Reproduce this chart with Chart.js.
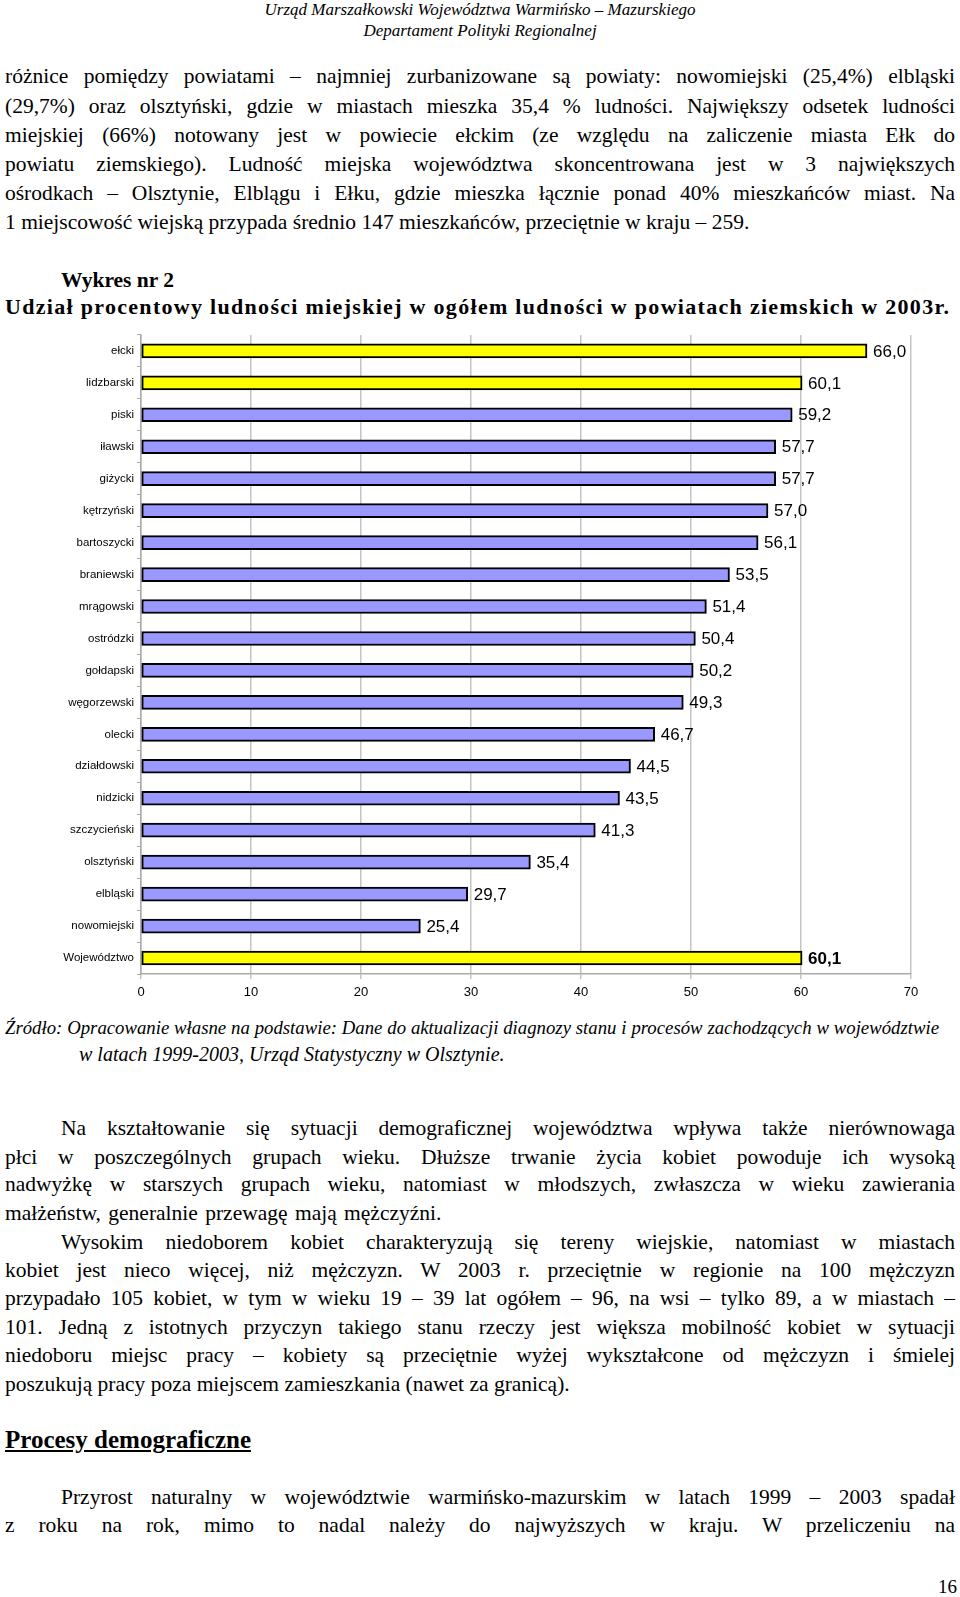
<!DOCTYPE html>
<html lang="pl">
<head>
<meta charset="utf-8">
<script src="https://cdn.jsdelivr.net/npm/chart.js@4.4.0/dist/chart.umd.min.js"></script>
<style>
body{margin:0;width:960px;height:1597px;position:relative;background:#fff;font-family:"Liberation Serif",serif;color:#000;overflow:hidden}
.ln{position:absolute;left:5px;width:950px;font-size:21.5px;line-height:28px;white-space:nowrap}
.j{text-align:justify;text-align-last:justify;white-space:normal}
.in{left:61px;width:894px}
.hd{position:absolute;left:0;width:960px;text-align:center;font-style:italic;font-size:17px;line-height:20px}
.b{font-weight:bold}
.it{font-style:italic;font-size:20px}
#wykres{position:absolute;left:0;top:325px;width:960px;height:684px}
</style>
</head>
<body>
<div class="hd" style="top:0px">Urząd Marszałkowski Województwa Warmińsko – Mazurskiego</div>
<div class="hd" style="top:21px">Departament Polityki Regionalnej</div>

<div class="ln j" style="top:62px">różnice pomiędzy powiatami – najmniej zurbanizowane są powiaty: nowomiejski (25,4%) elbląski</div>
<div class="ln j" style="top:92px">(29,7%) oraz olsztyński, gdzie w miastach mieszka 35,4 % ludności. Największy odsetek ludności</div>
<div class="ln j" style="top:121px">miejskiej (66%) notowany jest w powiecie ełckim (ze względu na zaliczenie miasta Ełk do</div>
<div class="ln j" style="top:150px">powiatu ziemskiego). Ludność miejska województwa skoncentrowana jest w 3 największych</div>
<div class="ln j" style="top:179px">ośrodkach – Olsztynie, Elblągu i Ełku, gdzie mieszka łącznie ponad 40% mieszkańców miast. Na</div>
<div class="ln" style="top:208px">1 miejscowość wiejską przypada średnio 147 mieszkańców, przeciętnie w kraju – 259.</div>

<div class="ln b" style="top:266px;left:61px">Wykres nr 2</div>
<div class="ln b" style="top:293px;font-size:22px;letter-spacing:1.3px">Udział procentowy ludności miejskiej w ogółem ludności w powiatach ziemskich w 2003r.</div>

<div id="wykres"><canvas id="graf" width="960" height="684"></canvas></div>

<div class="ln j it" style="top:1014px;width:934px">Źródło: Opracowanie własne na podstawie: Dane do aktualizacji diagnozy stanu i procesów zachodzących w województwie</div>
<div class="ln it" style="top:1040px;left:79px">w latach 1999-2003, Urząd Statystyczny w Olsztynie.</div>

<div class="ln j in" style="top:1114px">Na kształtowanie się sytuacji demograficznej województwa wpływa także nierównowaga</div>
<div class="ln j" style="top:1143px">płci w poszczególnych grupach wieku. Dłuższe trwanie życia kobiet powoduje ich wysoką</div>
<div class="ln j" style="top:1170px">nadwyżkę w starszych grupach wieku, natomiast w młodszych, zwłaszcza w wieku zawierania</div>
<div class="ln" style="top:1199px;word-spacing:2px">małżeństw, generalnie przewagę mają mężczyźni.</div>
<div class="ln j in" style="top:1228px">Wysokim niedoborem kobiet charakteryzują się tereny wiejskie, natomiast w miastach</div>
<div class="ln j" style="top:1256px">kobiet jest nieco więcej, niż mężczyzn. W 2003 r. przeciętnie w regionie na 100 mężczyzn</div>
<div class="ln j" style="top:1284px">przypadało 105 kobiet, w tym w wieku 19 – 39 lat ogółem – 96, na wsi – tylko 89, a w miastach –</div>
<div class="ln j" style="top:1313px">101. Jedną z istotnych przyczyn takiego stanu rzeczy jest większa mobilność kobiet w sytuacji</div>
<div class="ln j" style="top:1341px">niedoboru miejsc pracy – kobiety są przeciętnie wyżej wykształcone od mężczyzn i śmielej</div>
<div class="ln" style="top:1370px">poszukują pracy poza miejscem zamieszkania (nawet za granicą).</div>

<div class="ln b" style="top:1426px;font-size:25px;text-decoration:underline">Procesy demograficzne</div>
<div class="ln j in" style="top:1483px">Przyrost naturalny w województwie warmińsko-mazurskim w latach 1999 – 2003 spadał</div>
<div class="ln j" style="top:1511px">z roku na rok, mimo to nadal należy do najwyższych w kraju. W przeliczeniu na</div>
<div class="ln" style="top:1573px;text-align:right;width:952px;font-size:19px">16</div>

<script>
// wiersze justowane musza sie zmiescic w jednej linii
document.querySelectorAll('.j').forEach(el => {
    let rozmiar = parseFloat(getComputedStyle(el).fontSize)
    while (el.offsetHeight > 30 && rozmiar > 12) {
        rozmiar -= 0.25
        el.style.fontSize = rozmiar + 'px'
    }
})

// dane z wykresu nr 2
const powiaty = ['ełcki', 'lidzbarski', 'piski', 'iławski', 'giżycki', 'kętrzyński', 'bartoszycki',
    'braniewski', 'mrągowski', 'ostródzki', 'gołdapski', 'węgorzewski', 'olecki', 'działdowski',
    'nidzicki', 'szczycieński', 'olsztyński', 'elbląski', 'nowomiejski', 'Województwo']
const udzial = [66.0, 60.1, 59.2, 57.7, 57.7, 57.0, 56.1, 53.5, 51.4, 50.4, 50.2, 49.3, 46.7, 44.5,
    43.5, 41.3, 35.4, 29.7, 25.4, 60.1]
const wyroznione = ['ełcki', 'lidzbarski', 'Województwo']
const osMin = 0
const osMax = 70
const osKrok = 10

const zolty = '#ffff00'
const niebieski = '#9999ff'
const szary = '#c4c4c4'

const kolory = powiaty.map(p => wyroznione.includes(p) ? zolty : niebieski)

// etykiety wartosci obok slupkow
const etykiety = {
    id: 'etykiety',
    afterDatasetsDraw(chart) {
        const ctx = chart.ctx
        const meta = chart.getDatasetMeta(0)
        ctx.save()
        ctx.fillStyle = '#000'
        ctx.textBaseline = 'middle'
        ctx.textAlign = 'left'
        meta.data.forEach((bar, i) => {
            const pogrubione = powiaty[i] === 'Województwo'
            ctx.font = (pogrubione ? 'bold ' : '') + '17px "Liberation Sans", Arial, sans-serif'
            ctx.fillText(udzial[i].toFixed(1).replace('.', ','), bar.x + 6, bar.y + 1)
        })
        ctx.restore()
    }
}

Chart.defaults.color = '#000000'
Chart.defaults.font.family = '"Liberation Sans", Arial, sans-serif'

new Chart(document.getElementById('graf'), {
    type: 'bar',
    data: {
        labels: powiaty,
        datasets: [{
            data: udzial,
            backgroundColor: kolory,
            borderColor: '#000000',
            borderWidth: 2,
            borderSkipped: false,
            barThickness: 14
        }]
    },
    options: {
        indexAxis: 'y',
        responsive: false,
        animation: false,
        layout: { padding: { top: 5, right: 49, left: 0, bottom: 0 } },
        plugins: {
            legend: { display: false },
            tooltip: { enabled: false }
        },
        scales: {
            x: {
                min: osMin,
                max: osMax,
                ticks: { stepSize: osKrok, font: { size: 13 }, padding: 6 },
                grid: { color: szary, lineWidth: 1.5, tickLength: 5 },
                border: { color: '#aaaaaa', width: 1.5 },
                afterFit(scale) { scale.height = 35 }
            },
            y: {
                ticks: { autoSkip: false, font: { size: 11.5 }, padding: 3 },
                grid: { drawOnChartArea: false, tickLength: 4, color: '#aaaaaa' },
                border: { color: '#aaaaaa', width: 1.5 },
                afterFit(scale) { scale.width = 141 }
            }
        }
    },
    plugins: [etykiety]
})
</script>
</body>
</html>
